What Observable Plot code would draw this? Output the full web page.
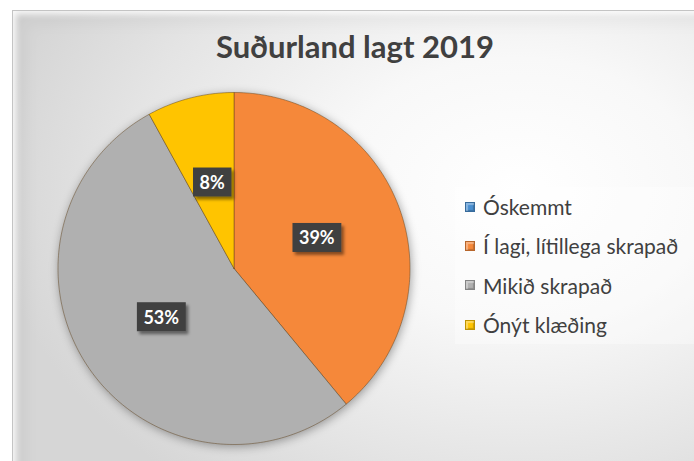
<!DOCTYPE html>
<html>
<head>
<meta charset="utf-8">
<script src="https://cdn.jsdelivr.net/npm/d3@7"></script>
<script src="https://cdn.jsdelivr.net/npm/@observablehq/plot@0.6"></script>
<style>
  html, body { margin: 0; padding: 0; background: #ffffff; }
  #wrap { position: relative; width: 694px; height: 461px; overflow: hidden; background: #ffffff; font-family: Lato, "Open Sans", sans-serif; }
  #frame { position: absolute; left: 12px; top: 10px; width: 700px; height: 470px;
    border-top: 1px solid #c4c4c4; border-left: 1px solid #c4c4c4;
    background: radial-gradient(ellipse 75% 80% at 72% 38%, #ffffff 0%, #f8f8f8 35%, #e4e4e4 75%, #d6d6d6 100%);
    box-shadow: inset 3px 3px 6px rgba(255,255,255,0.9), inset 10px 10px 18px rgba(0,0,0,0.05); }
  #title { position: absolute; left: 355px; top: 31px; transform: translateX(-50%); white-space: nowrap;
    font-family: Lato, sans-serif; font-weight: 700; font-size: 31px; line-height: 1; color: #404040; }
  #chart { position: absolute; left: 0; top: 0; }
  #chart g[aria-label="line"] { filter: drop-shadow(1px 2px 5px rgba(0,0,0,0.35)); }
  #legend { position: absolute; left: 455px; top: 187px; width: 239px; padding: 0 0 0 10px; box-sizing: border-box; background: rgba(255,255,255,0.35); }
  .row { height: 39.3px; display: flex; align-items: center; font-size: 21px; color: #404040; white-space: nowrap; }
  .sw { width: 8px; height: 8px; margin-right: 8px; border: 1px solid rgba(0,0,0,0.25); box-shadow: inset 2px 2px 1px rgba(255,255,255,0.35), inset -1px -1px 1px rgba(0,0,0,0.2); }
</style>
</head>
<body>
<div id="wrap">
  <div id="frame"></div>
  <div id="title"></div>
  <div id="chart"></div>
  <div id="legend"></div>
</div>
<script>
// ---- data ----
const chartTitle = "Suðurland lagt 2019";
const categories = ["Óskemmt", "Í lagi, lítillega skrapað", "Mikið skrapað", "Ónýt klæðing"];
const shares = [0, 39, 53, 8];

// ---- style ----
const palette = ["#4a8fd0", "#f5883a", "#b0b0b0", "#ffc400"];

const data = categories.map((c, i) => ({key: c, value: shares[i]}));
const arcs = d3.pie().sort(null).value(d => d.value)(data);

// polygon points for each slice (unit circle, angle clockwise from 12 o'clock)
const slicePoints = [];
for (const a of arcs) {
  if (a.endAngle - a.startAngle <= 0) continue;
  const key = a.data.key;
  slicePoints.push({key, x: 0, y: 0});
  const n = Math.max(2, Math.ceil((a.endAngle - a.startAngle) / (Math.PI / 180)));
  for (let k = 0; k <= n; k++) {
    const t = a.startAngle + (a.endAngle - a.startAngle) * k / n;
    slicePoints.push({key, x: Math.sin(t), y: Math.cos(t)});
  }
  slicePoints.push({key, x: 0, y: 0});
}
const labels = arcs.filter(a => a.value > 0).map(a => {
  const m = (a.startAngle + a.endAngle) / 2;
  return {key: a.data.key, x: 0.5 * Math.sin(m), y: 0.5 * Math.cos(m), text: d3.format(".0%")(a.value / d3.sum(shares))};
});

const plot = Plot.plot({
  width: 694,
  height: 461,
  margin: 0,
  style: {background: "transparent", overflow: "visible"},
  x: {domain: [-1, 1], range: [57.5, 409.5], axis: null},
  y: {domain: [-1, 1], range: [444, 92], axis: null},
  color: {domain: categories, range: palette},
  marks: [
    Plot.line(slicePoints, {x: "x", y: "y", z: "key", fill: "key", stroke: "rgba(90,60,20,0.45)", strokeWidth: 1, curve: "linear"}),
    Plot.text(labels, {x: "x", y: "y", text: "text", fill: "white", fontWeight: "bold", fontSize: 18, fontFamily: "Lato, sans-serif"})
  ]
});
document.getElementById("chart").appendChild(plot);
document.getElementById("title").textContent = chartTitle;

// drop-shadow filter for label boxes
const NS = "http://www.w3.org/2000/svg";
const defs = document.createElementNS(NS, "defs");
defs.innerHTML = '<filter id="boxShadow" x="-30%" y="-30%" width="170%" height="190%"><feDropShadow dx="2.5" dy="3" stdDeviation="1.8" flood-color="#000" flood-opacity="0.45"/></filter>';
plot.insertBefore(defs, plot.firstChild);

// label boxes behind texts (same transform as each text)
const textGroup = plot.querySelector('g[aria-label="text"]');
if (textGroup) {
  textGroup.querySelectorAll("text").forEach(t => {
    const b = t.getBBox();
    const r = document.createElementNS(NS, "rect");
    const cx = b.x + b.width / 2, cy = b.y + b.height / 2;
    const w = b.width + 13, h = 29;
    r.setAttribute("x", cx - w / 2);
    r.setAttribute("y", cy - h / 2);
    r.setAttribute("width", w);
    r.setAttribute("height", h);
    r.setAttribute("fill", "#404040");
    r.setAttribute("stroke", "none");
    r.setAttribute("filter", "url(#boxShadow)");
    const tr = t.getAttribute("transform");
    if (tr) r.setAttribute("transform", tr);
    if (t.getAttribute("x") !== null && !tr) {
      r.setAttribute("x", +t.getAttribute("x") + cx - w / 2 - (+t.getAttribute("x")));
    }
    textGroup.insertBefore(r, t);
  });
}

// legend from the plot's color scale
const color = plot.scale("color");
const legend = document.getElementById("legend");
categories.forEach((c, i) => {
  const row = document.createElement("div");
  row.className = "row";
  const sw = document.createElement("span");
  sw.className = "sw";
  sw.style.background = color.range[color.domain.indexOf(c)];
  const label = document.createElement("span");
  label.textContent = c;
  row.appendChild(sw);
  row.appendChild(label);
  legend.appendChild(row);
});
</script>
</body>
</html>
